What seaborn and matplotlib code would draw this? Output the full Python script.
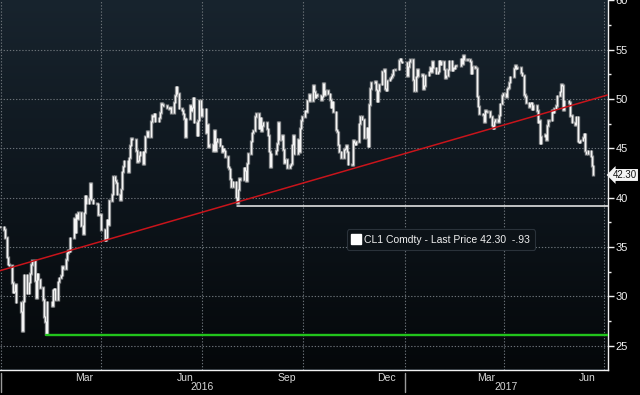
import numpy as np
import pandas as pd
import matplotlib
matplotlib.use('Agg')
import matplotlib.pyplot as plt
import matplotlib.dates as mdates
from matplotlib.colors import LinearSegmentedColormap
from matplotlib.lines import Line2D
import seaborn as sns

# ============================================================
# DATA  (CL1 Comdty, daily closes)
# ============================================================
start_date = '2015-12-31'
end_date = '2017-06-21'
holidays = ['2016-01-01', '2016-01-18', '2016-02-15', '2016-03-25', '2016-05-30',
            '2016-07-04', '2016-09-05', '2016-11-24', '2016-12-26', '2017-01-02',
            '2017-01-16', '2017-02-20', '2017-04-14', '2017-05-29']

close = [
    37.04,
    # 2016 jan
    36.76, 35.97, 33.97, 33.27, 33.16, 31.41, 30.44, 30.48, 31.20, 29.42,
    28.46, 26.55, 29.53, 32.19, 30.34, 31.45, 32.30, 33.22, 33.62,
    # feb
    31.62, 29.88, 32.28, 31.72, 30.89, 29.69, 27.94, 27.45, 26.21, 29.44,
    29.04, 30.66, 30.77, 29.64, 31.48, 31.87, 32.15, 33.07, 32.78, 33.75,
    # mar
    34.40, 34.66, 34.57, 35.92, 37.90, 36.50, 38.29, 37.84, 38.50, 37.18, 36.34,
    38.46, 40.20, 39.44, 39.91, 41.45, 39.79, 39.46, 39.39, 38.28, 38.32, 38.34,
    # apr
    36.79, 35.70, 35.89, 37.75, 37.26, 39.72, 40.36, 42.17, 41.76, 41.50, 40.36,
    39.78, 40.88, 42.63, 43.18, 43.73, 42.64, 44.04, 45.33, 46.03, 45.92,
    # may
    44.78, 43.65, 43.78, 44.32, 44.66, 43.44, 44.66, 46.23, 46.70, 46.21, 47.72,
    48.31, 48.19, 48.49, 47.75, 48.08, 48.62, 49.56, 49.48, 49.33, 49.10,
    # jun
    49.01, 49.17, 48.62, 49.69, 50.36, 51.23, 50.56, 49.07, 48.88, 48.49, 48.01,
    46.21, 47.98, 49.37, 48.85, 49.13, 50.11, 47.64, 46.33, 47.85, 49.88, 48.33,
    # jul
    48.99, 46.60, 47.43, 45.14, 45.41, 44.76, 46.80, 44.75, 45.68, 45.95,
    45.24, 44.65, 44.94, 44.75, 44.19, 43.13, 42.92, 41.92, 41.14, 41.60,
    # aug
    40.06, 39.51, 40.83, 41.93, 41.80, 43.02, 42.77, 41.71, 43.49, 44.49, 45.74, 46.58,
    46.79, 48.22, 48.52, 47.05, 48.10, 46.77, 47.33, 47.64, 46.98, 46.35, 44.70,
    # sep
    43.16, 44.44, 44.83, 45.50, 47.62, 45.88, 46.29, 44.90, 43.58, 43.91, 43.03,
    43.30, 43.44, 45.34, 46.32, 44.48, 45.93, 44.67, 47.05, 47.83, 48.24,
    # oct
    48.81, 48.69, 49.83, 50.44, 49.81, 51.35, 50.79, 50.18, 50.44, 50.35, 49.94,
    50.29, 51.60, 50.43, 50.85, 50.52, 49.96, 49.18, 49.72, 48.70, 46.86,
    # nov
    46.67, 45.34, 44.66, 44.07, 44.89, 44.98, 45.27, 44.66, 43.41, 43.32, 45.81,
    45.57, 45.42, 45.69, 47.49, 48.24, 47.96, 46.06, 47.08, 45.23, 49.44,
    # dec
    51.06, 51.68, 51.79, 50.93, 49.77, 50.84, 51.50, 52.83, 52.98, 51.04, 50.90,
    51.90, 52.12, 52.23, 52.49, 52.95, 53.02, 53.90, 54.06, 53.77, 53.72,
    # 2017 jan
    52.33, 53.26, 53.76, 53.99, 51.96, 50.82, 52.25, 53.01, 52.37, 52.48,
    51.08, 51.37, 52.42, 52.75, 53.18, 52.75, 53.78, 53.17, 52.63, 52.81,
    # feb
    53.88, 53.54, 53.83, 53.01, 52.17, 52.34, 53.00, 53.86, 52.93, 53.20,
    53.11, 53.36, 53.40, 54.06, 53.59, 54.45, 53.99, 54.05, 54.01,
    # mar
    53.83, 52.61, 53.33, 53.20, 53.14, 50.28, 49.28, 48.49, 48.40, 47.72, 48.86, 48.75,
    48.78, 48.22, 47.34, 47.04, 47.70, 47.97, 47.73, 48.37, 49.51, 50.35, 50.60,
    # apr
    50.24, 51.03, 51.15, 51.70, 52.24, 53.08, 53.40, 53.11, 53.18, 52.65,
    52.41, 50.44, 50.27, 49.62, 49.23, 49.56, 49.62, 48.97, 49.33,
    # may
    48.84, 47.66, 47.82, 45.52, 46.22, 46.43, 45.88, 47.33, 47.83, 47.84, 48.85,
    48.66, 49.07, 49.35, 50.33, 50.73, 51.47, 51.36, 48.90, 49.80, 49.66, 48.32,
    # jun
    48.36, 47.66, 47.40, 48.19, 45.72, 45.64, 45.83, 46.08, 46.46, 44.73,
    44.46, 44.74, 44.20, 43.23, 42.30,
]

last_price = 42.30
net_change = '-.93'

# trend line (red) and support levels
trend_dates = ['2015-12-31', '2017-07-04']
trend_values = [32.6, 50.4]
green_start, green_level = '2016-02-11', 26.05
white_start, white_level = '2016-08-02', 39.19

month_names = ['Mar', 'Jun', 'Sep', 'Dec', 'Mar', 'Jun']
month_dates = ['2016-03-01', '2016-06-01', '2016-09-01', '2016-12-01', '2017-03-01', '2017-06-01']
years = ['2016', '2017']

# ============================================================
# FRAME
# ============================================================
dates = pd.bdate_range(start_date, end_date, freq='C', holidays=holidays)
assert len(dates) == len(close), (len(dates), len(close))
df = pd.DataFrame({'date': dates, 'close': close})
df['prev'] = df['close'].shift(1).fillna(df['close'])

sns.set_theme(style='dark', rc={'axes.facecolor': '#0f1820', 'figure.facecolor': '#000000'})
plt.rcParams['font.family'] = ['Liberation Sans', 'DejaVu Sans']

fig = plt.figure(figsize=(6.4, 3.95), dpi=100)
W, H = 640, 395
ax = fig.add_axes([0, 1 - 369.5 / H, 608 / W, 369.5 / H])

xmin = mdates.date2num(pd.Timestamp('2015-12-31 02:00'))
xmax = mdates.date2num(pd.Timestamp('2017-07-04 14:00'))
ymin, ymax = 22.59, 60.03

# background gradient
grad = LinearSegmentedColormap.from_list('bb', ['#18242e', '#0e161d', '#05080a'])
ax.imshow(np.linspace(0, 1, 256).reshape(-1, 1), cmap=grad, aspect='auto',
          extent=[xmin, xmax, ymin, ymax], origin='upper', zorder=0)

# dotted grid
grid_kw = dict(color='#6a7177', lw=0.8, ls=(0, (1.2, 1.6)), zorder=1)
for v in range(25, 60, 5):
    ax.axhline(v, **grid_kw)
for d in pd.date_range('2016-01-01', '2017-07-01', freq='QS'):
    ax.axvline(mdates.date2num(d), **grid_kw)

# price bars
x = mdates.date2num(df['date'])
lo = np.minimum(df['prev'], df['close'])
hi = np.maximum(df['prev'], df['close'])
ax.vlines(x, lo - 0.12, hi + 0.12, color='#8d8f91', lw=2.4, zorder=3)
ax.vlines(x, lo - 0.05, hi + 0.05, color='#f4f4f4', lw=0.9, zorder=4)

# trend line + levels
trend = pd.DataFrame({'date': pd.to_datetime(trend_dates), 'value': trend_values})
sns.lineplot(data=trend, x='date', y='value', color='#c8141b', lw=1.1, ax=ax, zorder=5)
green = pd.DataFrame({'date': [pd.Timestamp(green_start), mdates.num2date(xmax).replace(tzinfo=None)],
                      'value': [green_level, green_level]})
sns.lineplot(data=green, x='date', y='value', color='#22c41c', lw=1.7, ax=ax, zorder=5)
white = pd.DataFrame({'date': [pd.Timestamp(white_start), mdates.num2date(xmax).replace(tzinfo=None)],
                      'value': [white_level, white_level]})
sns.lineplot(data=white, x='date', y='value', color='#f2f2f2', lw=1.1, ax=ax, zorder=5)

ax.set_xlim(xmin, xmax)
ax.set_ylim(ymin, ymax)
ax.set_xlabel('')
ax.set_ylabel('')

# spines
for s in ['left', 'top']:
    ax.spines[s].set_visible(False)
for s in ['right', 'bottom']:
    ax.spines[s].set_visible(True)
    ax.spines[s].set_color('#f0f0f0')
    ax.spines[s].set_linewidth(1.0)

# y axis on the right
ax.yaxis.tick_right()
ax.set_yticks(range(25, 61, 5))
ax.set_yticks(np.arange(27.5, 60, 5), minor=True)
ax.tick_params(axis='y', which='major', colors='#f0f0f0', length=4, width=1, pad=1.5, labelsize=8)
ax.tick_params(axis='y', which='minor', colors='#f0f0f0', length=2, width=1)

# x axis: month ticks only, labels drawn as text
ax.set_xticks(mdates.date2num(pd.date_range('2016-01-01', '2017-07-01', freq='MS')))
ax.set_xticklabels([])
ax.tick_params(axis='x', which='major', colors='#f0f0f0', length=2.5, width=1, direction='out')

xt = ax.get_xaxis_transform()
for name, d in zip(month_names, month_dates):
    xc = mdates.date2num(pd.Timestamp(d) + pd.Timedelta(days=15))
    ax.text(xc, -0.024, name, transform=xt, ha='center', va='center',
            color='#d8d8d8', fontsize=7.5)
jan17 = mdates.date2num(pd.Timestamp('2017-01-01'))
year_x = [mdates.date2num(pd.Timestamp('2016-07-01')), (jan17 + xmax) / 2]
for yr, xc in zip(years, year_x):
    ax.text(xc, -0.048, yr, transform=xt, ha='center', va='center',
            color='#d8d8d8', fontsize=7.5)
for d in ['2016-01-01', '2017-01-01']:
    xd = mdates.date2num(pd.Timestamp(d))
    ax.plot([xd, xd], [-0.01, -0.062], transform=xt, color='#9a9a9a', lw=1, clip_on=False)

# last price tag
ax.annotate(f'{last_price:.2f}', xy=(1.0, last_price), xycoords=('axes fraction', 'data'),
            xytext=(3.5, 0), textcoords='offset points', ha='left', va='center',
            fontsize=7, color='#111111',
            bbox=dict(boxstyle='larrow,pad=0.1', fc='#f4f4f4', ec='none'),
            annotation_clip=False)

# legend
handle = Line2D([], [], ls='none', marker='s', markersize=7, mfc='white', mec='white')
leg = ax.legend([handle], [f'CL1 Comdty - Last Price {last_price:.2f}  {net_change}'],
                loc='upper left', bbox_to_anchor=(0.562, 0.393), frameon=True,
                fontsize=7.5, handletextpad=0.3, borderpad=0.5, handlelength=0.8,
                facecolor='#0c1217', edgecolor='#2a323a', framealpha=1)
leg.get_frame().set_linewidth(0.8)
for t in leg.get_texts():
    t.set_color('#f0f0f0')

plt.savefig('out.png', dpi=100, facecolor=fig.get_facecolor())
